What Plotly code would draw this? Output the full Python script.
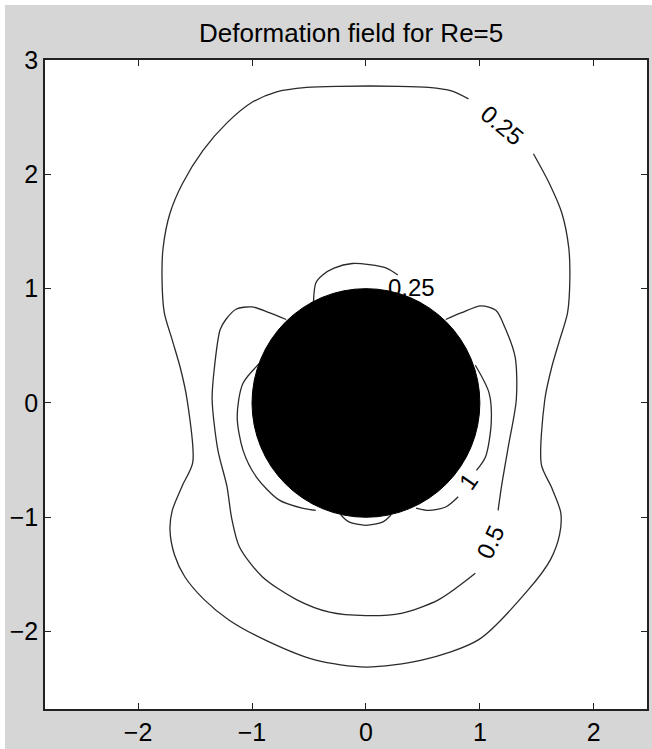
import plotly.graph_objects as go

# ---- data (data coordinates) ----
TITLE = "Deformation field for Re=5"
X_TICKS = [-2, -1, 0, 1, 2]
Y_TICKS = [-2, -1, 0, 1, 2, 3]
X_RANGE = [-2.817, 2.467]
Y_RANGE = [-2.677, 3.0]

CYL_CENTER = (0.0, 0.0)
CYL_RADIUS = 1.0

# outer 0.25 contour (gap where its label sits)
c025_outer_x = [1.47, 1.61, 1.72, 1.78, 1.79, 1.77, 1.70, 1.63, 1.57, 1.54, 1.63, 1.71, 1.70, 1.62,
                1.42, 0.99, 0.49, 0.00, -0.44, -0.85, -1.20, -1.42, -1.59, -1.68, -1.72, -1.70,
                -1.61, -1.52, -1.57, -1.63, -1.70, -1.77, -1.79, -1.78, -1.72, -1.61, -1.43, -1.22,
                -1.00, -0.79, -0.52, -0.24, 0.29, 0.55, 0.75, 0.90]
c025_outer_y = [2.18, 1.92, 1.66, 1.36, 1.10, 0.79, 0.55, 0.31, 0.03, -0.54, -0.74, -0.96, -1.15, -1.37,
                -1.64, -2.07, -2.25, -2.31, -2.25, -2.09, -1.90, -1.72, -1.52, -1.33, -1.11, -0.94,
                -0.72, -0.52, 0.03, 0.31, 0.55, 0.79, 1.10, 1.36, 1.66, 1.92, 2.21, 2.45,
                2.63, 2.72, 2.76, 2.77, 2.77, 2.76, 2.73, 2.66]

# inner 0.25 contour above the cylinder
c025_inner_x = [-0.46, -0.44, -0.38, -0.28, -0.12, 0.03, 0.18, 0.28]
c025_inner_y = [0.89, 1.05, 1.12, 1.18, 1.22, 1.21, 1.18, 1.12]

# 0.5 contour, two pieces separated by its label
c05_a_x = [-0.70, -0.85, -1.00, -1.14, -1.23, -1.28, -1.33, -1.35, -1.30, -1.22, -1.18, -1.11,
           -0.91, -0.61, -0.32, 0.00, 0.31, 0.64, 0.96]
c05_a_y = [0.73, 0.79, 0.84, 0.82, 0.73, 0.64, 0.31, 0.03, -0.41, -0.73, -1.00, -1.26,
           -1.52, -1.72, -1.83, -1.86, -1.84, -1.72, -1.49]
c05_b_x = [1.16, 1.19, 1.25, 1.32, 1.31, 1.22, 1.14, 1.01, 0.84, 0.70]
c05_b_y = [-0.94, -0.73, -0.38, 0.03, 0.40, 0.66, 0.81, 0.85, 0.79, 0.73]

# small lobe below the cylinder
lobe_x = [-0.22, -0.15, 0.00, 0.15, 0.22]
lobe_y = [-0.98, -1.04, -1.07, -1.04, -0.98]

# 1 contour: left piece and right pieces (label gap)
c1_left_x = [-0.92, -1.08, -1.13, -1.08, -0.96, -0.76, -0.56, -0.44]
c1_left_y = [0.36, 0.17, -0.12, -0.41, -0.65, -0.85, -0.92, -0.94]
c1_ra_x = [0.96, 1.08, 1.10, 1.05, 0.97]
c1_ra_y = [0.33, 0.09, -0.17, -0.47, -0.59]
c1_rb_x = [0.81, 0.70, 0.55, 0.44]
c1_rb_y = [-0.82, -0.91, -0.94, -0.92]

# contour labels: text, x, y, angle
LABEL_TEXT = ["0.25", "0.25", "1", "0.5"]
LABEL_X = [1.20, 0.40, 0.90, 1.09]
LABEL_Y = [2.43, 1.01, -0.69, -1.22]
LABEL_ANGLE = [40, 0, -55, -65]

# ---- figure ----
LINE = dict(color="#2a2a2a", width=1.3, shape="spline", smoothing=0.8)
FONT = "Liberation Sans, Arial, Helvetica, sans-serif"
FIG_W, FIG_H = 647, 744

fig = go.Figure()
for xs, ys in [(c025_outer_x, c025_outer_y), (c025_inner_x, c025_inner_y),
               (c05_a_x, c05_a_y), (c05_b_x, c05_b_y), (lobe_x, lobe_y),
               (c1_left_x, c1_left_y), (c1_ra_x, c1_ra_y), (c1_rb_x, c1_rb_y)]:
    fig.add_trace(go.Scatter(x=xs, y=ys, mode="lines", line=LINE,
                             hoverinfo="skip", showlegend=False))

fig.add_shape(type="circle", xref="x", yref="y",
              x0=CYL_CENTER[0] - CYL_RADIUS, x1=CYL_CENTER[0] + CYL_RADIUS,
              y0=CYL_CENTER[1] - CYL_RADIUS, y1=CYL_CENTER[1] + CYL_RADIUS,
              fillcolor="black", line=dict(color="black", width=1), layer="above")

for t, x, y, a in zip(LABEL_TEXT, LABEL_X, LABEL_Y, LABEL_ANGLE):
    fig.add_annotation(x=x, y=y, text=t, textangle=a, showarrow=False,
                       font=dict(family=FONT, size=24, color="black"))

axis_common = dict(showgrid=False, zeroline=False, ticks="inside", ticklen=6,
                   tickwidth=1.2, tickcolor="#222", showline=True, linecolor="#222",
                   linewidth=1.5, mirror="ticks",
                   tickfont=dict(family=FONT, size=25, color="black"))
fig.update_xaxes(range=X_RANGE, tickvals=X_TICKS,
                 ticktext=[str(v).replace("-", "\u2212") for v in X_TICKS], **axis_common)
fig.update_yaxes(range=Y_RANGE, tickvals=Y_TICKS,
                 ticktext=[str(v).replace("-", "\u2212") for v in Y_TICKS], **axis_common)

fig.update_layout(
    width=FIG_W, height=FIG_H,
    margin=dict(l=40, r=3, t=55, b=40),
    paper_bgcolor="#d6d6d6", plot_bgcolor="white",
    title=dict(text=TITLE, x=0.535, xanchor="center", y=1 - 28 / FIG_H, yanchor="middle",
               font=dict(family=FONT, size=26, color="black")),
)

fig.write_html("out.html", post_script="document.body.style.margin='5px 0 0 5px';")
